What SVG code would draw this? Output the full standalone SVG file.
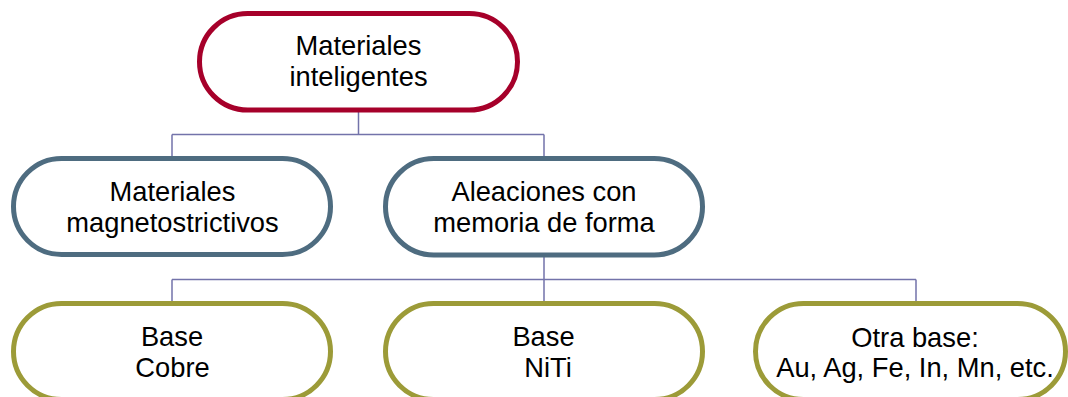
<svg xmlns="http://www.w3.org/2000/svg" width="1068" height="397" viewBox="0 0 1068 397">
<style>
.node{fill:#ffffff;stroke-width:5}
.l0{stroke:#A6002A}
.l1{stroke:#4E6C80}
.l2{stroke:#9C9B38}
.t{font-family:"Liberation Sans",Arial,sans-serif;font-size:27.3px;fill:#000;text-anchor:middle}
.conn{fill:none;stroke:#7373AA;stroke-width:1.5}
</style>
<rect width="1068" height="397" fill="#ffffff"/>
<g id="connectors">
<path class="conn" d="M358.5 110 V134.5 M172 134.5 H544 M172 134.5 V157 M544 134.5 V157"/>
<path class="conn" d="M544 256 V302 M172 279.5 H916 M172 279.5 V302 M916 279.5 V302"/>
</g>
<g id="n-materiales-inteligentes">
<rect class="node l0" x="199.5" y="13.5" width="318" height="96.5" rx="48.25"/>
<text class="t" x="358.5" y="55">Materiales</text>
<text class="t" x="358.5" y="86">inteligentes</text>
</g>
<g id="n-magnetostrictivos">
<rect class="node l1" x="13.5" y="158.5" width="317" height="96" rx="48"/>
<text class="t" x="172.5" y="201">Materiales</text>
<text class="t" x="172.5" y="232">magnetostrictivos</text>
</g>
<g id="n-aleaciones">
<rect class="node l1" x="385.5" y="158.5" width="317" height="96.5" rx="48.25"/>
<text class="t" x="544" y="201">Aleaciones con</text>
<text class="t" x="544" y="232">memoria de forma</text>
</g>
<g id="n-base-cobre">
<rect class="node l2" x="13.5" y="303.5" width="317" height="96" rx="48"/>
<text class="t" x="172" y="346">Base</text>
<text class="t" x="172.5" y="377">Cobre</text>
</g>
<g id="n-base-niti">
<rect class="node l2" x="385.5" y="303.5" width="317" height="96" rx="48"/>
<text class="t" x="543.5" y="346">Base</text>
<text class="t" x="548" y="377">NiTi</text>
</g>
<g id="n-otra-base">
<rect class="node l2" x="755.5" y="303.5" width="310" height="96" rx="48"/>
<text class="t" x="915" y="347">Otra base:</text>
<text class="t" x="915" y="377">Au, Ag, Fe, In, Mn, etc.</text>
</g>
</svg>
